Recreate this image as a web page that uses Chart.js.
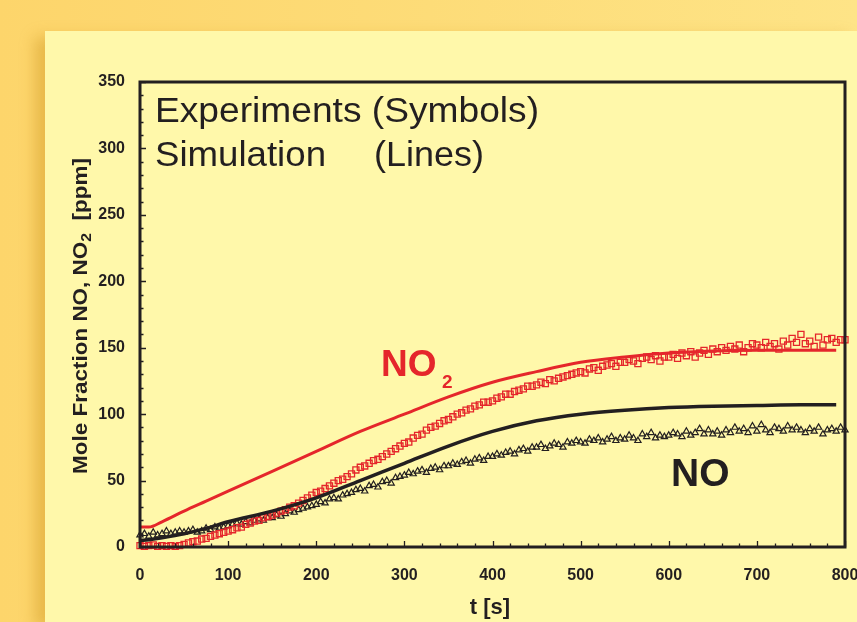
<!DOCTYPE html>
<html lang="en">
<head>
    <title>NO / NO2 Mole Fraction</title>
    <meta charset="utf-8">
    <style>
        html, body { margin: 0; padding: 0; }
        body {
            width: 857px;
            height: 622px;
            overflow: hidden;
            position: relative;
            background: linear-gradient(to right, #fdd56b 0%, #fddc78 50%, #fee487 100%);
        }
        #panel {
            position: absolute;
            left: 45px;
            top: 31px;
            right: 0;
            bottom: 0;
            background: #fff8aa;
            box-shadow: -10px 6px 14px rgba(200, 140, 20, 0.4);
        }
        #chart {
            position: absolute;
            left: 0;
            top: 0;
        }
    </style>
</head>
<body>
    <div id="panel"></div>
    <canvas id="chart" width="857" height="622"></canvas>

    <script src="https://cdn.jsdelivr.net/npm/chart.js"></script>
    <script>
        // simulation curves (lines)
        const simTime = [0, 10, 25, 50, 75, 100, 150, 200, 250, 300, 350, 400, 450, 500, 550, 600, 650, 700, 750, 790];
        const no2Sim  = [15, 15, 19, 27, 34.5, 42, 57, 72, 87, 100, 113, 124, 132, 139, 143, 146, 147.5, 148, 148, 148];
        const noSim   = [5, 5.5, 7, 10, 14, 19, 27, 37, 50, 63, 76, 87, 95, 100, 103, 105, 106, 106.5, 107, 107];

        // measurements (symbols), one value every 5 s from 0 to 800 s
        const expStep = 5;
        const no2Exp = [
            1, 0.5, 1, 1.5, 0.5, 1, 0.5, 1, 0.5, 1,
            2, 3, 4, 4.5, 6, 6.5, 8, 9, 10, 11,
            12, 13, 14.5, 15, 17, 18, 19.5, 20, 22, 23,
            24, 25.5, 27, 28, 30, 31, 33, 35, 37, 39,
            41, 42, 44, 46, 48, 50, 51, 53, 55, 58,
            60, 61, 63, 65, 66, 68, 70, 72, 74, 76,
            78, 79, 82, 84, 85, 88, 90, 91, 93, 95,
            96, 98, 100, 101, 103, 104, 106, 107, 109, 109,
            110, 112, 113, 115, 115, 117, 118, 119, 121, 121,
            122, 124, 123, 126, 125, 127, 128, 129, 130, 131,
            132, 131, 134, 135, 133, 136, 137, 138, 136, 139,
            139, 141, 140, 138, 142, 143, 141, 144, 140, 143,
            143, 145, 142, 146, 144, 147, 143, 146, 148, 145,
            149, 147, 150, 148, 151, 149, 152, 147, 150, 153,
            152, 150, 154, 151, 153, 149, 155, 152, 157, 154,
            160, 153, 155, 151, 158, 152, 156, 157, 154, 156,
            156
        ];
        const noExp = [
            9, 10, 8, 11, 9, 10, 12, 10, 11, 12,
            11, 12, 13, 11, 12, 14, 13, 15, 14, 15,
            16, 17, 18, 17, 19, 18, 20, 21, 20, 22,
            22, 24, 23, 25, 27, 26, 28, 29, 30, 31,
            32, 34, 33, 36, 37, 36, 39, 40, 41, 43,
            44, 42, 46, 47, 45, 49, 50, 48, 52, 53,
            54, 56, 55, 57, 58, 56, 59, 60, 58, 61,
            61, 63, 62, 64, 65, 63, 66, 67, 65, 68,
            68, 70, 69, 71, 72, 70, 73, 74, 72, 75,
            75, 77, 74, 76, 78, 77, 75, 79, 78, 80,
            79, 78, 81, 80, 82, 79, 81, 83, 80, 82,
            81, 84, 82, 80, 85, 83, 86, 82, 84, 83,
            84, 86, 85, 83, 87, 84, 86, 89, 85, 88,
            85, 87, 84, 88, 86, 90, 87, 89, 86, 91,
            87, 92, 88, 86, 90, 89, 87, 91, 88, 90,
            88, 86, 89, 87, 90, 85, 88, 89, 87, 90,
            88
        ];

        const xTicks = [0, 100, 200, 300, 400, 500, 600, 700, 800];
        const yTicks = [0, 50, 100, 150, 200, 250, 300, 350];

        const RED = '#e5262b';
        const INK = '#231f20';

        function toPoints(xs, ys) {
            return ys.map((y, i) => ({ x: xs[i], y: y }));
        }
        function expPoints(ys) {
            return ys.map((y, i) => ({ x: i * expStep, y: y }));
        }

        // draw text squeezed/stretched to a given width
        function fitText(ctx, text, x, y, width) {
            const w = ctx.measureText(text).width;
            ctx.save();
            ctx.translate(x, y);
            ctx.scale(width / w, 1);
            ctx.fillText(text, 0, 0);
            ctx.restore();
        }

        // frame with inward major/minor ticks
        const framePlugin = {
            id: 'frame',
            afterDatasetsDraw(chart) {
                const { ctx, chartArea: a, scales } = chart;
                ctx.save();
                ctx.strokeStyle = INK;
                ctx.lineWidth = 1.3;
                ctx.beginPath();
                for (let v = 0; v <= 800; v += 20) {
                    const px = Math.round(scales.x.getPixelForValue(v)) + 0.5;
                    const len = v % 100 === 0 ? 6 : 3.5;
                    ctx.moveTo(px, a.bottom);
                    ctx.lineTo(px, a.bottom - len);
                }
                for (let v = 0; v <= 350; v += 10) {
                    const py = Math.round(scales.y.getPixelForValue(v)) + 0.5;
                    const len = v % 50 === 0 ? 6 : 3.5;
                    ctx.moveTo(a.left, py);
                    ctx.lineTo(a.left + len, py);
                }
                ctx.stroke();
                ctx.lineWidth = 3;
                ctx.strokeRect(a.left, a.top, a.right - a.left, a.bottom - a.top);
                ctx.restore();
            }
        };

        // captions, curve labels and axis titles
        const textPlugin = {
            id: 'texts',
            afterDraw(chart) {
                const ctx = chart.ctx;
                ctx.save();
                ctx.textBaseline = 'alphabetic';
                ctx.textAlign = 'left';

                ctx.fillStyle = INK;
                ctx.font = '35px "Liberation Sans", Arial, sans-serif';
                fitText(ctx, 'Experiments (Symbols)', 155, 122, 384);
                fitText(ctx, 'Simulation', 155, 166, 171);
                fitText(ctx, '(Lines)', 374, 166, 110);

                // NO2 label
                ctx.fillStyle = RED;
                ctx.font = 'bold 37px "Liberation Sans", Arial, sans-serif';
                ctx.fillText('NO', 381, 376);
                ctx.font = 'bold 19px "Liberation Sans", Arial, sans-serif';
                ctx.fillText('2', 442, 388);

                // NO label
                ctx.fillStyle = INK;
                ctx.font = 'bold 39px "Liberation Sans", Arial, sans-serif';
                ctx.fillText('NO', 671, 486);

                // x axis title
                ctx.font = 'bold 22px "Liberation Sans", Arial, sans-serif';
                ctx.textAlign = 'center';
                ctx.fillText('t [s]', 490, 614);

                // y axis title, rotated, with subscript
                ctx.translate(87, 474);
                ctx.rotate(-Math.PI / 2);
                ctx.textAlign = 'left';
                const big = 'bold 20px "Liberation Sans", Arial, sans-serif';
                const small = 'bold 14px "Liberation Sans", Arial, sans-serif';
                const parts = [
                    ['Mole Fraction NO, NO', big, 0],
                    ['2', small, 4],
                    ['  [ppm]', big, 0]
                ];
                let total = 0;
                parts.forEach(p => { ctx.font = p[1]; total += ctx.measureText(p[0]).width; });
                ctx.scale(316 / total, 1);
                let cx = 0;
                parts.forEach(p => {
                    ctx.font = p[1];
                    ctx.fillText(p[0], cx, p[2]);
                    cx += ctx.measureText(p[0]).width;
                });
                ctx.restore();
            }
        };

        const tickFont = { family: '"Liberation Sans", Arial, sans-serif', weight: 'bold', size: 16 };

        new Chart(document.getElementById('chart'), {
            type: 'scatter',
            data: {
                datasets: [
                    {
                        label: 'NO2 simulation',
                        type: 'line',
                        data: toPoints(simTime, no2Sim),
                        borderColor: RED,
                        borderWidth: 3,
                        pointRadius: 0,
                        cubicInterpolationMode: 'monotone',
                        order: 0
                    },
                    {
                        label: 'NO simulation',
                        type: 'line',
                        data: toPoints(simTime, noSim),
                        borderColor: INK,
                        borderWidth: 3.5,
                        pointRadius: 0,
                        cubicInterpolationMode: 'monotone',
                        order: 0
                    },
                    {
                        label: 'NO2 experiment',
                        data: expPoints(no2Exp),
                        pointStyle: 'rect',
                        pointRadius: 4.3,
                        borderColor: RED,
                        borderWidth: 1.3,
                        backgroundColor: 'rgba(0,0,0,0)',
                        clip: 6,
                        order: 1
                    },
                    {
                        label: 'NO experiment',
                        data: expPoints(noExp),
                        pointStyle: 'triangle',
                        pointRadius: 3.6,
                        borderColor: INK,
                        borderWidth: 1.2,
                        backgroundColor: 'rgba(0,0,0,0)',
                        clip: 6,
                        order: 1
                    }
                ]
            },
            options: {
                responsive: false,
                animation: false,
                devicePixelRatio: 1,
                layout: {
                    autoPadding: false,
                    padding: { top: 82, right: 12, left: 0, bottom: 0 }
                },
                plugins: {
                    legend: { display: false },
                    tooltip: { enabled: false }
                },
                scales: {
                    x: {
                        type: 'linear',
                        min: 0,
                        max: 800,
                        afterFit(scale) {
                            scale.height = 75;
                            scale.paddingLeft = 0;
                            scale.paddingRight = 0;
                        },
                        afterBuildTicks(scale) { scale.ticks = xTicks.map(v => ({ value: v })); },
                        grid: { display: false, drawTicks: false },
                        border: { display: false },
                        ticks: { font: tickFont, color: INK, padding: 19, maxRotation: 0 }
                    },
                    y: {
                        type: 'linear',
                        min: 0,
                        max: 350,
                        afterFit(scale) { scale.width = 140; },
                        afterBuildTicks(scale) { scale.ticks = yTicks.map(v => ({ value: v })); },
                        grid: { display: false, drawTicks: false },
                        border: { display: false },
                        ticks: { font: tickFont, color: INK, padding: 15 }
                    }
                }
            },
            plugins: [framePlugin, textPlugin]
        });
    </script>
</body>
</html>
